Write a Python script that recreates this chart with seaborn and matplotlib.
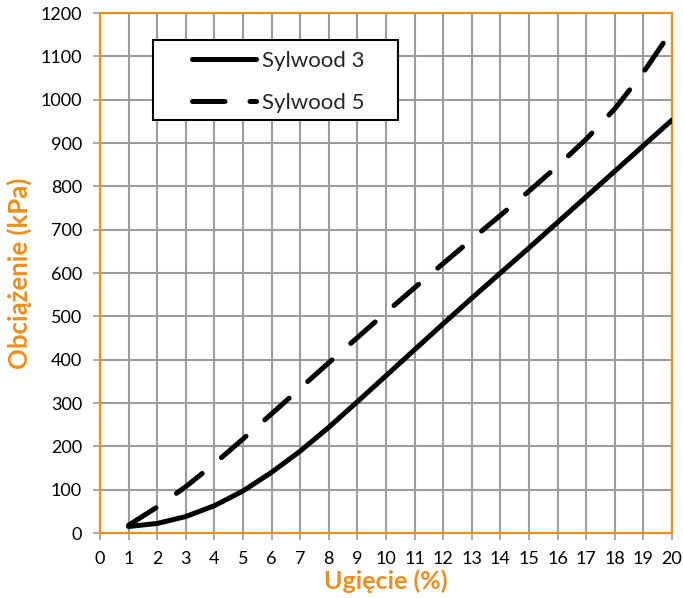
import numpy as np
import pandas as pd
import matplotlib
matplotlib.use("Agg")
import matplotlib.pyplot as plt
from matplotlib.patches import Rectangle
from matplotlib.lines import Line2D
import seaborn as sns

# ---- data ----
deflection = [1, 2, 3, 4, 5, 6, 7, 8, 9, 10, 11, 12, 13, 14, 15, 16, 17, 18, 19, 20]
sylwood3 = [15, 22, 38, 63, 97, 140, 189, 244, 303, 363, 423, 483, 542, 600, 658, 717, 776, 835, 894, 953]
sylwood5 = [18, 60, 107, 160, 217, 275, 334, 393, 451, 509, 566, 622, 678, 733, 789, 847, 909, 979, 1063, 1160]
series_names = ["Sylwood 3", "Sylwood 5"]
x_ticks = list(range(0, 21))
y_ticks = list(range(0, 1201, 100))
x_label = "Ugięcie (%)"
y_label = "Obciążenie (kPa)"

df = pd.DataFrame({
    "x": deflection * 2,
    "y": sylwood3 + sylwood5,
    "series": [series_names[0]] * len(deflection) + [series_names[1]] * len(deflection),
})

sns.set_theme(style="white")
plt.rcParams["font.family"] = ["Lato", "DejaVu Sans"]

ORANGE = "#EC8F1C"
GRID = "#9C9C9C"

fig = plt.figure(figsize=(6.83, 5.98), dpi=100)
ax = fig.add_axes([100 / 683, 1 - 533 / 598, 572 / 683, 520 / 598])

sns.lineplot(
    data=df, x="x", y="y", style="series", color="black",
    dashes={series_names[0]: "", series_names[1]: (6.5, 5)},
    linewidth=3.6, ax=ax, legend=False, zorder=3,
)
for ln in ax.get_lines():
    ln.set_dash_capstyle("round")
    ln.set_solid_capstyle("round")
    ln.set_solid_joinstyle("round")
    ln.set_dash_joinstyle("round")

ax.set_xlim(0, 20)
ax.set_ylim(0, 1200)
ax.set_xticks(x_ticks)
ax.set_yticks(y_ticks)
ax.grid(True, color=GRID, linewidth=1.5, zorder=0)
ax.set_axisbelow(True)
for s in ax.spines.values():
    s.set_color(ORANGE)
    s.set_linewidth(1.6)
    s.set_visible(True)
ax.tick_params(axis="both", which="both", direction="out", length=5, width=1.2,
               color=GRID, labelsize=13, labelcolor="black", pad=8,
               bottom=True, left=True)

ax.set_xlabel(x_label, color=ORANGE, fontsize=18, fontweight="bold", labelpad=2)
ax.set_ylabel(y_label, color=ORANGE, fontsize=18.5, fontweight="bold", labelpad=6)

# legend box
box = Rectangle((53 / 572, 413 / 520), 245 / 572, 80 / 520, transform=ax.transAxes,
                facecolor="white", edgecolor="black", linewidth=1.5, zorder=4)
ax.add_patch(box)
handles = [
    Line2D([], [], color="black", linewidth=3.6, solid_capstyle="round"),
    Line2D([], [], color="black", linewidth=3.6, linestyle=(0, (6.5, 5)), dash_capstyle="round"),
]
leg = ax.legend(handles, series_names, loc="upper left",
                bbox_to_anchor=(76 / 572, 1 - 22 / 520), frameon=False,
                fontsize=16, handlelength=2.9, handletextpad=0.25,
                labelspacing=1.02, borderpad=0.2)
leg.set_zorder(5)

fig.savefig("out.png", dpi=100)
